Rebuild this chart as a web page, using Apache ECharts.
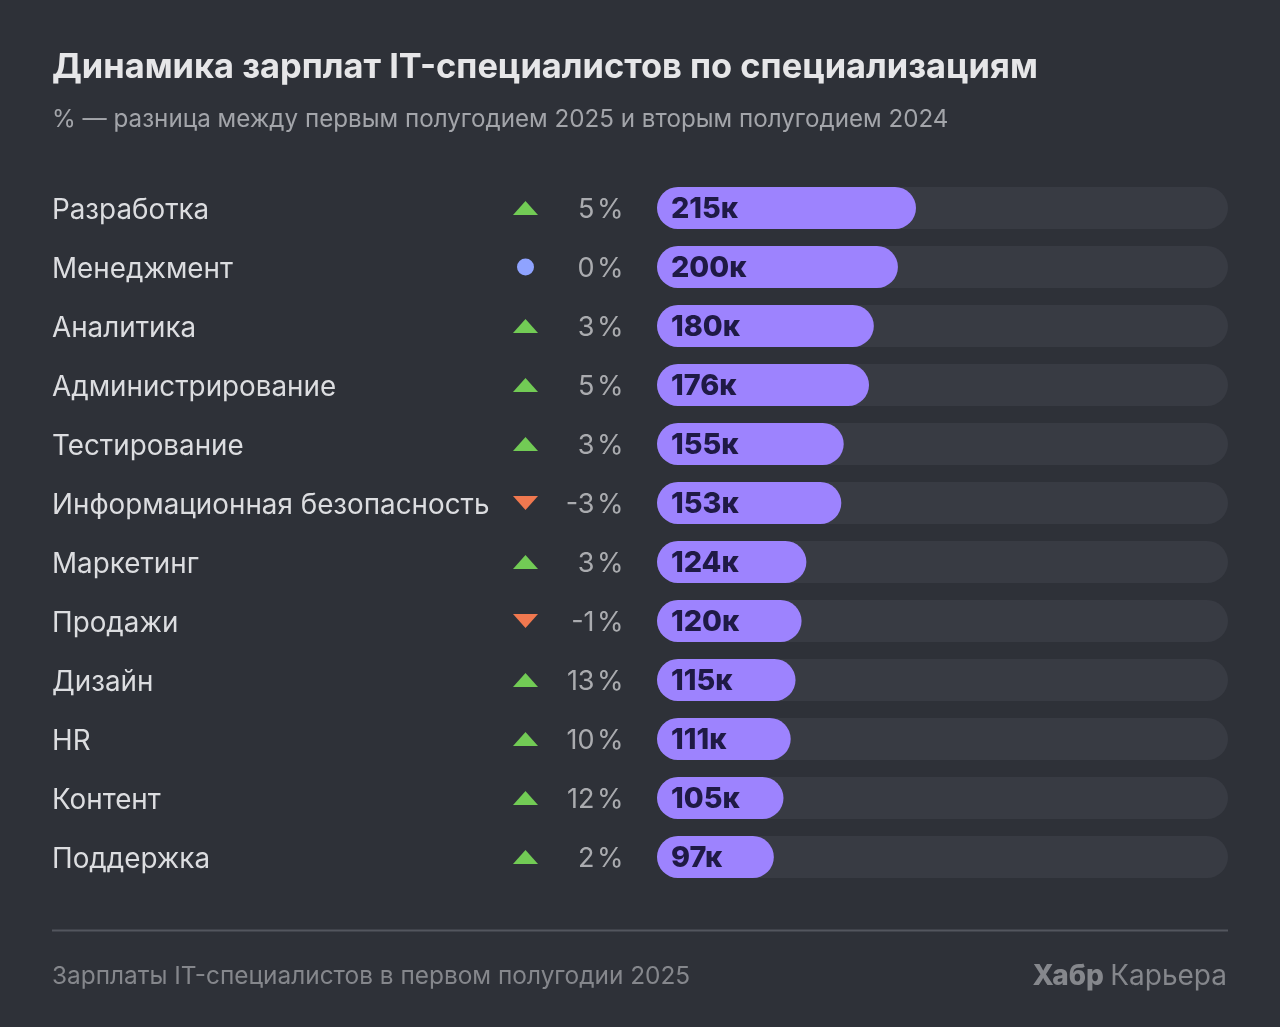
<!DOCTYPE html>
<html>
<head>
<meta charset="utf-8">
<style>
html, body { margin: 0; padding: 0; background: #2e3138; }
#chart { width: 1280px; height: 1027px; }
</style>
<script src="https://cdn.jsdelivr.net/npm/echarts@6/dist/echarts.min.js"></script>
</head>
<body>
<div id="chart"></div>
<script>
var categories = ["Разработка", "Менеджмент", "Аналитика", "Администрирование", "Тестирование",
    "Информационная безопасность", "Маркетинг", "Продажи", "Дизайн", "HR", "Контент", "Поддержка"];
var salaries = [215, 200, 180, 176, 155, 153, 124, 120, 115, 111, 105, 97];
var changes = [5, 0, 3, 5, 3, -3, 3, -1, 13, 10, 12, 2];

var axisMax = 474;
var font = "Inter";

var colorUp = "#72cb55";
var colorDown = "#f0784f";
var colorFlat = "#8fa3ff";

// marker column sits at x=0, percent column at x=1 of the second grid
var markerData = changes.map(function (c, i) {
    return {
        value: [0, i],
        symbol: c === 0 ? "circle" : "triangle",
        symbolSize: c === 0 ? [17, 17] : [25, 14],
        symbolRotate: c < 0 ? 180 : 0,
        itemStyle: { color: c > 0 ? colorUp : (c < 0 ? colorDown : colorFlat), opacity: 1 }
    };
});
var percentData = changes.map(function (c, i) {
    return { value: [1, i], change: c };
});

var chart = echarts.init(document.getElementById("chart"), null, { renderer: "canvas" });

chart.setOption({
    backgroundColor: "#2e3138",
    animation: false,
    textStyle: { fontFamily: font },
    title: [
        {
            text: "Динамика зарплат IT-специалистов по специализациям",
            left: 52, top: 51, padding: 0,
            textStyle: { color: "#e6e6e8", fontSize: 34.4, fontWeight: 700, fontFamily: font }
        },
        {
            text: "% — разница между первым полугодием 2025 и вторым полугодием 2024",
            left: 52, top: 108, padding: 0,
            textStyle: { color: "#a3a5aa", fontSize: 24.2, fontWeight: 400, fontFamily: font }
        },
        {
            text: "Зарплаты IT-специалистов в первом полугодии 2025",
            left: 52, top: 965, padding: 0,
            textStyle: { color: "#85878c", fontSize: 24.4, fontWeight: 400, fontFamily: font }
        },
        {
            text: "{b|Хабр} {n|Карьера}",
            right: 53, top: 963, padding: 0,
            textStyle: {
                rich: {
                    b: { color: "#85878c", fontSize: 28, fontWeight: 800, fontFamily: font },
                    n: { color: "#85878c", fontSize: 28, fontWeight: 400, fontFamily: font, padding: [0, 0, 0, 2] }
                }
            }
        }
    ],
    grid: [
        { left: 657, width: 571, top: 178.5, height: 708 },
        { left: 525.5, width: 96.5, top: 178.5, height: 708 }
    ],
    xAxis: [
        { type: "value", gridIndex: 0, min: 0, max: axisMax, show: false },
        { type: "value", gridIndex: 1, min: 0, max: 1, show: false }
    ],
    yAxis: [
        {
            type: "category", gridIndex: 0, data: categories, inverse: true,
            axisLine: { show: false }, axisTick: { show: false }, splitLine: { show: false },
            axisLabel: {
                margin: 605, align: "left",
                formatter: "{c|{value}}",
                rich: {
                    c: { color: "#dcdde0", fontSize: 27.8, fontFamily: font, padding: [5, 0, 0, 0] }
                }
            }
        },
        {
            type: "category", gridIndex: 1, data: categories, inverse: true, show: false
        }
    ],
    series: [
        {
            type: "bar",
            name: "Зарплата",
            xAxisIndex: 0, yAxisIndex: 0,
            data: salaries,
            barWidth: 42,
            showBackground: true,
            backgroundStyle: { color: "#383b43", borderRadius: 21 },
            itemStyle: { color: "#9d83fe", borderRadius: 21 },
            label: {
                show: true, position: "insideLeft", distance: 14, offset: [0, 1],
                formatter: "{c}к",
                color: "#1f1a45", fontSize: 28.8, fontWeight: 800, fontFamily: font
            }
        },
        {
            type: "scatter",
            name: "Динамика",
            xAxisIndex: 1, yAxisIndex: 1,
            data: markerData
        },
        {
            type: "scatter",
            name: "Процент",
            xAxisIndex: 1, yAxisIndex: 1,
            data: percentData,
            symbolSize: 0,
            label: {
                show: true, position: "left", distance: 0, offset: [1.5, 2],
                formatter: function (p) { return p.data.change + "\u200a%"; },
                color: "#c9cacd", fontSize: 27, fontFamily: font
            }
        }
    ],
    graphic: [
        {
            type: "line",
            shape: { x1: 52, y1: 930.5, x2: 1228, y2: 930.5 },
            style: { stroke: "#53565e", lineWidth: 2 }
        }
    ]
});
</script>
</body>
</html>
